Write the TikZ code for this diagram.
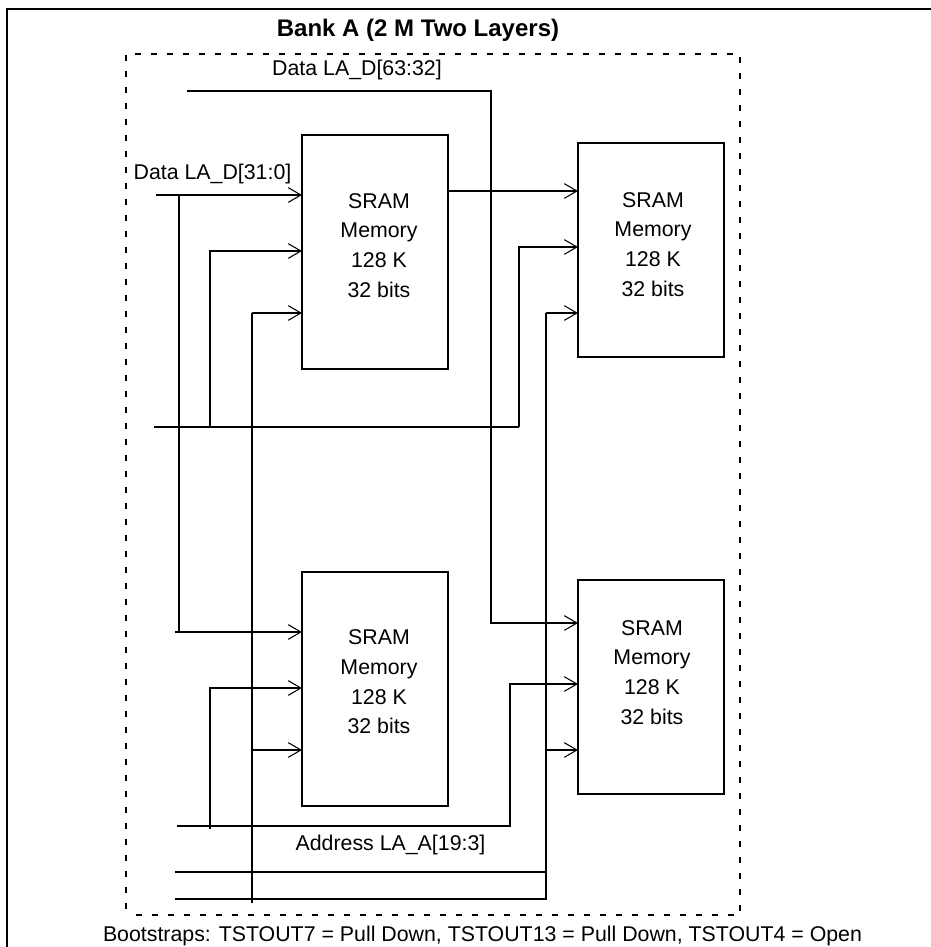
\documentclass[tikz,border=0pt]{standalone}
\usepackage{fontspec}
\setmainfont{Liberation Sans}
\usetikzlibrary{arrows.meta,positioning}

\begin{document}
\begin{tikzpicture}[
    x=0.75pt, y=-0.75pt,
    wire/.style={line width=1.2pt},
    arrow/.style={wire,-{Straight Barb[length=9.5pt,width=11pt,line width=0.8pt]}},
    sram/.style={rectangle, draw=black, line width=1.2pt, inner sep=0pt, outer sep=0pt, minimum width=109.5pt},
    tall/.style={sram, minimum height=175.5pt},
    short/.style={sram, minimum height=160.5pt},
    sramtext/.style={align=center, font=\fontsize{16}{22.3}\selectfont},
    signal/.style={font=\fontsize{16}{18}\selectfont, inner sep=0pt},
    bankbox/.style={rectangle, draw=black, line width=1.5pt, dash pattern=on 4.5pt off 7.5pt, dash phase=4.5pt, inner sep=0pt, outer sep=0pt, minimum width=460.5pt, minimum height=645.75pt}
]
\useasboundingbox (0,0) rectangle (931,947);

% outer frame
\coordinate (frameLow) at (7,947);
\coordinate (frameCorner) at (7,9);
\coordinate (frameEnd) at (931,9);
\draw [line width=1.6pt] (frameLow) -- (frameCorner) -- (frameEnd);

% dashed bank
\node (bank) [bankbox] at (433,484.5) {};
\node (title) [signal, font=\fontsize{18}{20}\selectfont\bfseries] at (418,30.5) {Bank A (2 M Two Layers)};
\node (bootstraps) [signal] at (482.5,936) {Bootstraps: TSTOUT7 = Pull Down, TSTOUT13 = Pull Down, TSTOUT4 = Open};

% memories
\node (sramA) [tall] at (375,252) {};
\node (sramB) [short, right=97.5pt of sramA, yshift=1.5pt] {};
\node (sramC) [tall, below=152.25pt of sramA] {};
\node (sramD) [short, below=167.25pt of sramB] {};

\node (textA) [sramtext] at (379,245.5) {SRAM\\Memory\\128 K\\32 bits};
\node (textB) [sramtext] at (653,244.5) {SRAM\\Memory\\128 K\\32 bits};
\node (textC) [sramtext] at (379,682) {SRAM\\Memory\\128 K\\32 bits};
\node (textD) [sramtext] at (652,672.5) {SRAM\\Memory\\128 K\\32 bits};

% signal names
\node (labelHigh) [signal] at (357,70) {Data LA\_D[63:32]};
\node (labelLow) [signal] at (212.5,174) {Data LA\_D[31:0]};
\node (labelAddr) [signal] at (390.5,845) {Address LA\_A[19:3]};

% wire points
\coordinate (highIn) at (187,91);
\coordinate (highDrop) at (491,623);
\coordinate (lowIn) at (156,195);
\coordinate (lowTap) at (179,195);
\coordinate (lowDrop) at (179,632);
\coordinate (lowEnd) at (175,632);
\coordinate (midIn) at (154,427);
\coordinate (midTap) at (210,427);
\coordinate (midBend) at (519,427);
\coordinate (midTurnA) at (210,251);
\coordinate (midTurnB) at (519,247);
\coordinate (busLeft) at (252,313);
\coordinate (busLeftEnd) at (252,903);
\coordinate (busLeftTap) at (252,750);
\coordinate (addrIn) at (177,826);
\coordinate (addrBend) at (510,826);
\coordinate (addrTurn) at (510,684);
\coordinate (addrStub) at (210,829);
\coordinate (addrTurnC) at (210,688);
\coordinate (busA) at (175,872);
\coordinate (busAEnd) at (546,872);
\coordinate (busB) at (175,899);
\coordinate (busBEnd) at (546,899);
\coordinate (busRight) at (546,313);
\coordinate (busRightTap) at (546,750);
\coordinate (outA) at (448,191);

% data wires
\draw [arrow] (highIn) -| (highDrop) -- (highDrop -| sramD.west);
\draw [arrow] (lowIn) -- (lowIn -| sramA.west);
\draw [wire] (lowTap) -- (lowDrop);
\draw [arrow] (lowEnd) -- (lowEnd -| sramC.west);
\draw [arrow] (outA) -- (outA -| sramB.west);

% middle wires
\draw [wire] (midIn) -- (midBend);
\draw [arrow] (midBend) -- (midTurnB) -- (midTurnB -| sramB.west);
\draw [arrow] (midTap) -- (midTurnA) -- (midTurnA -| sramA.west);

% address wires
\draw [arrow] (addrIn) -- (addrBend) -- (addrTurn) -- (addrTurn -| sramD.west);
\draw [arrow] (addrStub) -- (addrTurnC) -- (addrTurnC -| sramC.west);
\draw [wire] (busA) -- (busAEnd);
\draw [wire] (busB) -- (busBEnd) -- (busRight);
\draw [arrow] (busRight) -- (busRight -| sramB.west);
\draw [arrow] (busRightTap) -- (busRightTap -| sramD.west);
\draw [wire] (busLeftEnd) -- (busLeft);
\draw [arrow] (busLeft) -- (busLeft -| sramA.west);
\draw [arrow] (busLeftTap) -- (busLeftTap -| sramC.west);

\end{tikzpicture}
\end{document}
